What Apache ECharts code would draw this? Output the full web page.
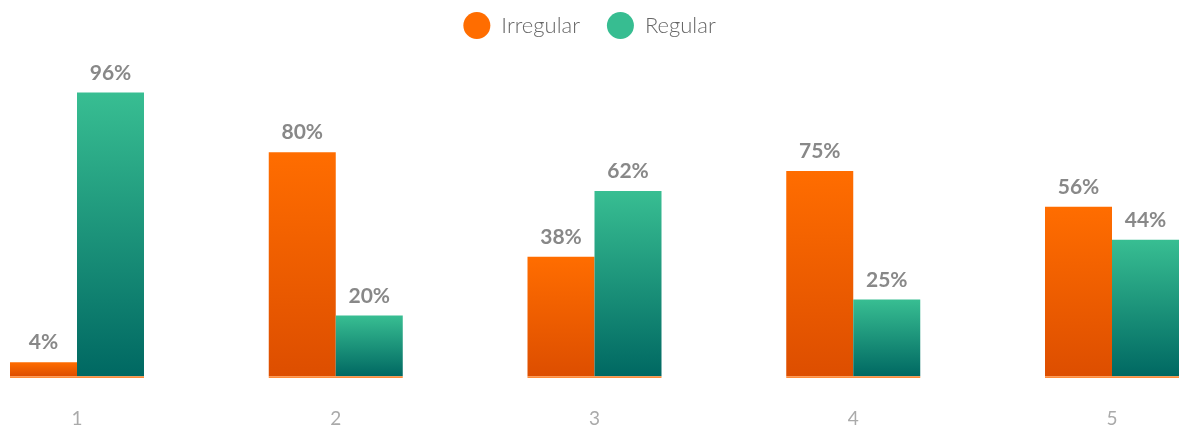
<!DOCTYPE html>
<html><head><meta charset="utf-8">
<script src="https://cdn.jsdelivr.net/npm/echarts@6/dist/echarts.min.js"></script>
<style>html,body{margin:0;padding:0;background:#fff}#c{width:1179px;height:428px}</style>
</head><body><div id="c"></div>
<script>
var categories = ['1', '2', '3', '4', '5'];
var irregularValues = [4.7, 75, 40, 68.7, 56.7];
var regularValues = [95, 20.3, 62, 25.7, 45.7];
var irregularLabels = ['4%', '80%', '38%', '75%', '56%'];
var regularLabels = ['96%', '20%', '62%', '25%', '44%'];
var baseLineValues = [-0.6, -0.6, -0.6, -0.6, -0.6];

function grad(top, bottom) {
  return new echarts.graphic.LinearGradient(0, 0, 0, 1, [
    { offset: 0, color: top }, { offset: 1, color: bottom }
  ]);
}
var labelStyle = { show: true, position: 'top', distance: 9, color: '#888', fontSize: 21, fontWeight: 'bold', fontFamily: 'Lato' };

var chart = echarts.init(document.getElementById('c'));
chart.setOption({
  animation: false,
  legend: {
    top: 7, left: 'center', icon: 'circle', itemWidth: 27, itemHeight: 27, itemGap: 27,
    textStyle: { color: '#666', fontSize: 22, fontWeight: 300, fontFamily: 'Lato', padding: [0, 0, 0, 6] },
    data: [
      { name: 'Irregular', itemStyle: { color: '#FF6D00' } },
      { name: 'Regular', itemStyle: { color: '#37BD91' } }
    ]
  },
  grid: { left: 77, right: 67, top: 77.5, bottom: 48.5, containLabel: false },
  xAxis: [{
    type: 'category', data: categories, boundaryGap: false,
    axisLine: { show: false }, axisTick: { show: false },
    axisLabel: { color: '#aaa', fontSize: 19, fontFamily: 'Lato', margin: 31 }
  }, {
    type: 'category', data: categories, boundaryGap: false, show: false
  }],
  yAxis: { type: 'value', min: -0.6, max: 100, show: false, splitLine: { show: false } },
  series: [{
    name: 'Irregular', type: 'bar', barWidth: 67, barGap: '0%', data: irregularValues,
    itemStyle: { color: grad('#FF6D00', '#DD4E00') },
    label: Object.assign({}, labelStyle, { formatter: function (p) { return irregularLabels[p.dataIndex]; } })
  }, {
    name: 'Regular', type: 'bar', barWidth: 67, barGap: '0%', data: regularValues,
    itemStyle: { color: grad('#38BE92', '#006862') },
    label: Object.assign({}, labelStyle, { formatter: function (p) { return regularLabels[p.dataIndex]; } })
  }, {
    name: 'base', type: 'bar', xAxisIndex: 1, barWidth: 134, data: baseLineValues, z: 5,
    itemStyle: { color: '#FF8C3A' }, silent: true, label: { show: false }
  }]
});
</script></body></html>
